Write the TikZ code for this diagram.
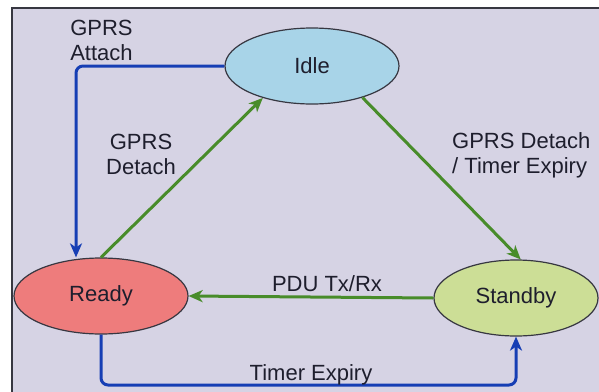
\documentclass[tikz,border=0pt]{standalone}
\usepackage{fontspec}
\setmainfont{Liberation Sans}
\usetikzlibrary{shapes.geometric,arrows.meta}

\definecolor{panelbg}{RGB}{214,211,228}
\definecolor{frameline}{RGB}{55,55,65}
\definecolor{idlefill}{RGB}{168,212,232}
\definecolor{readyfill}{RGB}{238,124,124}
\definecolor{standbyfill}{RGB}{204,222,150}
\definecolor{linkblue}{RGB}{22,62,180}
\definecolor{linkgreen}{RGB}{72,140,42}
\definecolor{labeltext}{RGB}{30,30,45}

\tikzset{
  state/.style={ellipse, draw=frameline, line width=1.2pt, inner sep=0pt,
    minimum height=76pt, font=\fontsize{22}{25}\selectfont, text=labeltext},
  bluelink/.style={draw=linkblue, line width=3pt, rounded corners=7pt,
    -{Stealth[length=14pt,width=12pt,inset=4pt]}},
  greenlink/.style={draw=linkgreen, line width=3pt,
    -{Stealth[length=14pt,width=12pt,inset=4pt]}},
  edgelabel/.style={font=\fontsize{22}{25}\selectfont, text=labeltext, inner sep=0pt}
}

\begin{document}
\begin{tikzpicture}[x=1pt,y=-1pt]
  \useasboundingbox (0,0) rectangle (599,391);
  \clip (0,0) rectangle (599,391);
  \fill[white] (0,0) rectangle (599,391);
  \draw[fill=panelbg, draw=frameline, line width=2pt] (12,8) rectangle (615,405);

  % states
  \node[state, fill=idlefill, minimum width=174pt] (idle) at (312,66) {Idle};
  \node[state, fill=readyfill, minimum width=174pt] (ready) at (101,296) {Ready};
  \node[state, fill=standbyfill, minimum width=164pt] (standby) at (516,298) {Standby};

  % helper points for the routed links
  \coordinate (attachx) at (76,0);
  \coordinate (bottomy) at (0,385);

  % transitions
  \draw[bluelink] (idle.west) -| (ready.north -| attachx);
  \draw[greenlink] (ready.north) -- (idle.213);
  \draw[greenlink] (idle.328) -- (standby.83);
  \draw[greenlink] (standby.west) -- (ready.east);
  \draw[bluelink] (ready.south) -- (ready.south |- bottomy) -| (standby.south);

  % transition labels
  \node[edgelabel, align=left] (lattach) at (101.5,40) {GPRS\\Attach};
  \node[edgelabel, align=center] (ldetach) at (141,154) {GPRS\\Detach};
  \node[edgelabel, align=left, anchor=west] (ldetachtimer) at (452,155) {GPRS Detach\\/ Timer Expiry};
  \node[edgelabel, anchor=base] (lpdu) at (327,291) {PDU Tx/Rx};
  \node[edgelabel, anchor=base] (ltimer) at (311,380) {Timer Expiry};
\end{tikzpicture}
\end{document}
